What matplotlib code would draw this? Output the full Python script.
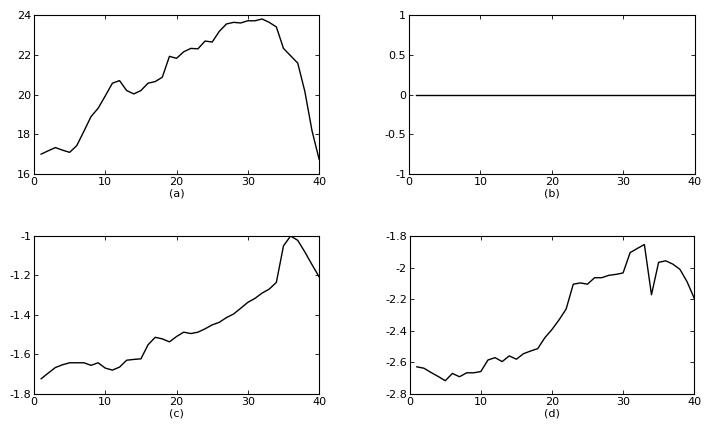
import matplotlib
matplotlib.use("Agg")
import matplotlib.pyplot as plt

plt.rcParams["font.family"] = "DejaVu Sans"
plt.rcParams["axes.unicode_minus"] = False

x = list(range(1, 41))

series_a = [17.0, 17.17, 17.33, 17.2, 17.09, 17.43, 18.15, 18.89, 19.31, 19.93,
            20.57, 20.70, 20.20, 20.03, 20.20, 20.57, 20.65, 20.87, 21.92, 21.82,
            22.15, 22.32, 22.30, 22.69, 22.64, 23.18, 23.55, 23.63, 23.60, 23.71,
            23.71, 23.80, 23.63, 23.40, 22.32, 21.95, 21.58, 20.15, 18.18, 16.74]

series_b = [0.0] * 40

series_c = [-1.723, -1.694, -1.666, -1.652, -1.642, -1.642, -1.642, -1.655, -1.642, -1.669,
            -1.679, -1.664, -1.629, -1.625, -1.622, -1.551, -1.513, -1.521, -1.536, -1.509,
            -1.487, -1.494, -1.487, -1.470, -1.450, -1.437, -1.413, -1.395, -1.366, -1.336,
            -1.316, -1.289, -1.269, -1.235, -1.050, -1.000, -1.022, -1.081, -1.145, -1.207]

series_d = [-2.628, -2.637, -2.664, -2.689, -2.716, -2.670, -2.691, -2.666, -2.666, -2.658,
            -2.585, -2.570, -2.595, -2.559, -2.580, -2.545, -2.528, -2.513, -2.444, -2.392,
            -2.331, -2.262, -2.105, -2.097, -2.105, -2.064, -2.064, -2.049, -2.043, -2.034,
            -1.905, -1.879, -1.854, -2.172, -1.967, -1.957, -1.978, -2.011, -2.089, -2.193]

panels = [
    ("(a)", series_a, (16, 24), [16, 18, 20, 22, 24], ["16", "18", "20", "22", "24"]),
    ("(b)", series_b, (-1, 1), [-1, -0.5, 0, 0.5, 1], ["-1", "-0.5", "0", "0.5", "1"]),
    ("(c)", series_c, (-1.8, -1.0), [-1.8, -1.6, -1.4, -1.2, -1.0],
     ["-1.8", "-1.6", "-1.4", "-1.2", "-1"]),
    ("(d)", series_d, (-2.8, -1.8), [-2.8, -2.6, -2.4, -2.2, -2.0, -1.8],
     ["-2.8", "-2.6", "-2.4", "-2.2", "-2", "-1.8"]),
]

# axes boxes in figure fractions (left, bottom, width, height)
boxes = [
    (0.0483, 0.5896, 0.405, 0.375),
    (0.581, 0.5896, 0.406, 0.375),
    (0.0483, 0.0708, 0.405, 0.3726),
    (0.582, 0.0708, 0.404, 0.3726),
]

fig = plt.figure(figsize=(7.04, 4.24), dpi=100)

for (label, ys, ylim, yticks, ylabels), box in zip(panels, boxes):
    ax = fig.add_axes(box)
    ax.plot(x, ys, color="black", linewidth=1.0)
    ax.set_xlim(0, 40)
    ax.set_ylim(*ylim)
    ax.set_xticks([0, 10, 20, 30, 40])
    ax.set_yticks(yticks)
    ax.set_yticklabels(ylabels)
    ax.tick_params(direction="in", top=True, right=True, length=3, width=0.6,
                   labelsize=8, pad=2)
    for sp in ax.spines.values():
        sp.set_linewidth(0.8)
    ax.set_xlabel(label, fontsize=8, labelpad=1)

fig.savefig("out.png", dpi=100)
